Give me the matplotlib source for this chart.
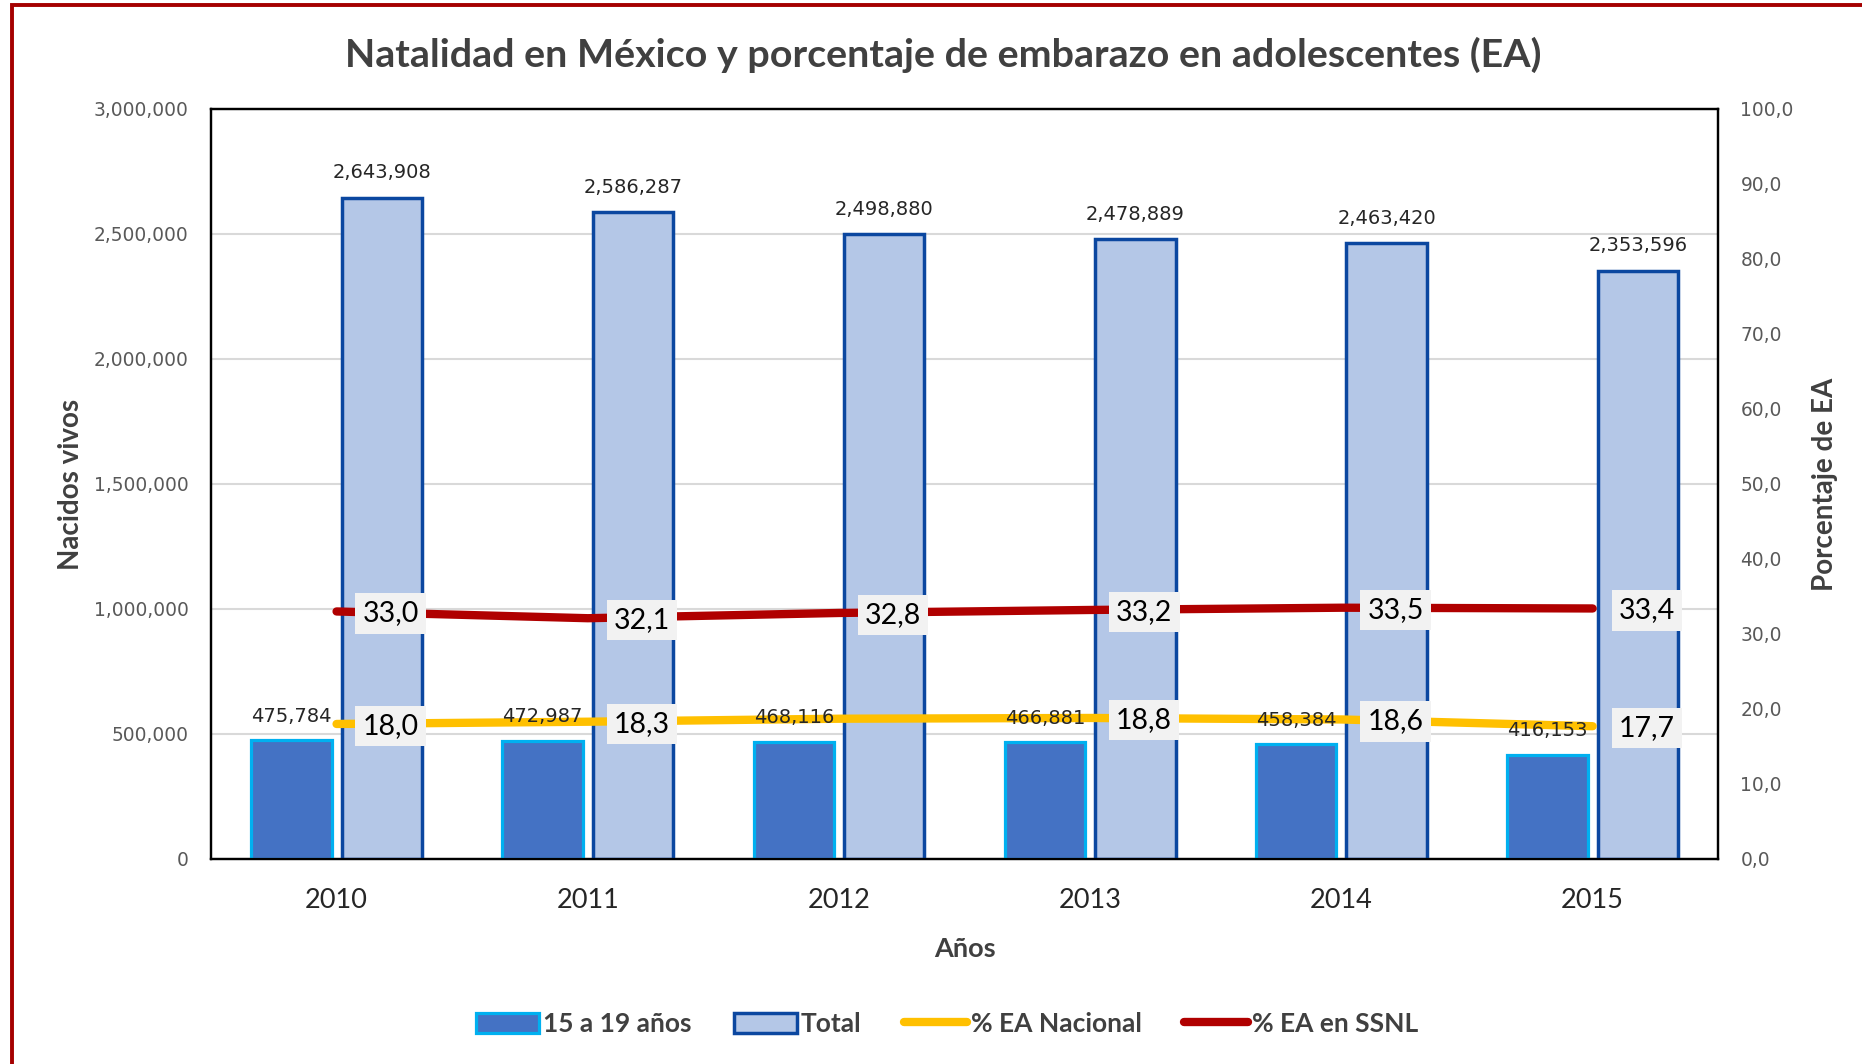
import numpy as np
import matplotlib
matplotlib.use("Agg")
from matplotlib import pyplot as plt
from matplotlib.patches import Patch, Rectangle
from matplotlib.lines import Line2D
from matplotlib.ticker import FuncFormatter, MultipleLocator

# data
years = ["2010", "2011", "2012", "2013", "2014", "2015"]
births_15_19 = [475784, 472987, 468116, 466881, 458384, 416153]
births_total = [2643908, 2586287, 2498880, 2478889, 2463420, 2353596]
ea_nacional = [18.0, 18.3, 18.7, 18.8, 18.6, 17.7]
ea_ssnl = [33.0, 32.1, 32.8, 33.2, 33.5, 33.4]
show_nacional_label = [True, True, False, True, True, True]

titleFont = "Lato"
tickFont = "DejaVu Sans"
darkText = "#404040"
tickColor = "#595959"

col_teen = "#4472C4"
edge_teen = "#00B0F0"
col_total = "#B4C7E7"
edge_total = "#0B47A0"
col_yellow = "#FFC000"
col_red = "#B00000"

fig = plt.figure(figsize=(18.62, 10.64), dpi=100)
ax = fig.add_axes([0.1133, 0.1927, 0.8095, 0.7049])
ax2 = ax.twinx()

x = np.arange(len(years))
barWidth = 0.32
offset = 0.18

ax.bar(x - offset, births_15_19, width=barWidth, color=col_teen, edgecolor=edge_teen,
       linewidth=2.3, zorder=3)
ax.bar(x + offset, births_total, width=barWidth, color=col_total, edgecolor=edge_total,
       linewidth=2.5, zorder=3)

ax.set_xlim(-0.5, len(years) - 0.5)
ax.set_ylim(0, 3000000)
ax.yaxis.set_major_locator(MultipleLocator(500000))
ax.yaxis.set_major_formatter(FuncFormatter(lambda v, p: f"{int(v):,}"))
ax.grid(axis="y", color="#D9D9D9", linewidth=1.5, zorder=0)
ax.set_axisbelow(True)
ax.set_xticks(x)
ax.set_xticklabels(years, fontsize=19.5, family=titleFont, color="#262626")

ax2.set_ylim(0, 100)
ax2.yaxis.set_major_locator(MultipleLocator(10))
ax2.yaxis.set_major_formatter(FuncFormatter(lambda v, p: f"{v:.1f}".replace(".", ",")))

ax.tick_params(axis="y", length=0, pad=16, labelsize=13.4, labelcolor=tickColor)
ax.tick_params(axis="x", length=0, pad=21)
ax2.tick_params(axis="y", length=0, pad=16, labelsize=13.4, labelcolor=tickColor)
for lab in ax.get_yticklabels() + ax2.get_yticklabels():
    lab.set_family(tickFont)

for a in (ax, ax2):
    for s in a.spines.values():
        s.set_color("black")
        s.set_linewidth(1.6)

ax2.plot(x, ea_nacional, color=col_yellow, linewidth=6, solid_capstyle="round", zorder=4)
ax2.plot(x, ea_ssnl, color=col_red, linewidth=6, solid_capstyle="round", zorder=4)

# bar value labels
for i in range(len(years)):
    ax2.annotate(f"{births_15_19[i]:,}", xy=(x[i] - offset, births_15_19[i]),
                 xycoords=ax.transData, xytext=(0, 24), textcoords="offset pixels",
                 ha="center", va="center", fontsize=14, family=tickFont,
                 color="#262626", zorder=6)
    ax2.annotate(f"{births_total[i]:,}", xy=(x[i] + offset, births_total[i]),
                 xycoords=ax.transData, xytext=(0, 25), textcoords="offset pixels",
                 ha="center", va="center", fontsize=14, family=tickFont,
                 color="#262626", zorder=6)

boxStyle = dict(boxstyle="square,pad=0.25", facecolor="#F2F2F2", edgecolor="none")
for i in range(len(years)):
    ax2.annotate(f"{ea_ssnl[i]:.1f}".replace(".", ","), xy=(x[i], ea_ssnl[i]),
                 xytext=(26, -2), textcoords="offset pixels", ha="left", va="center",
                 fontsize=20.5, family=titleFont, color="black", bbox=boxStyle, zorder=7)
    if show_nacional_label[i]:
        ax2.annotate(f"{ea_nacional[i]:.1f}".replace(".", ","), xy=(x[i], ea_nacional[i]),
                     xytext=(26, -2), textcoords="offset pixels", ha="left", va="center",
                     fontsize=20.5, family=titleFont, color="black", bbox=boxStyle, zorder=7)

ax.set_xlabel("Años", fontsize=19.5, fontweight="bold", family=titleFont, color=darkText,
              labelpad=17)
ax.set_ylabel("Nacidos vivos", fontsize=20, fontweight="bold", family=titleFont,
              color=darkText, labelpad=7)
ax2.set_ylabel("Porcentaje de EA", fontsize=20, fontweight="bold", family=titleFont,
               color=darkText, labelpad=13)

fig.text(0.5065, 0.948, "Natalidad en México y porcentaje de embarazo en adolescentes (EA)",
         ha="center", va="center", fontsize=28.4, fontweight="bold", family=titleFont,
         color=darkText)

handles = [Patch(facecolor=col_teen, edgecolor=edge_teen, linewidth=2.3),
           Patch(facecolor=col_total, edgecolor=edge_total, linewidth=2.5),
           Line2D([0], [0], color=col_yellow, linewidth=6, solid_capstyle="round"),
           Line2D([0], [0], color=col_red, linewidth=6, solid_capstyle="round")]
labels = ["15 a 19 años", "Total", "% EA Nacional", "% EA en SSNL"]
leg = fig.legend(handles, labels, loc="center", bbox_to_anchor=(0.5085, 0.0375), ncol=4,
                 frameon=False, handlelength=2.4, handleheight=0.8, handletextpad=0.15,
                 columnspacing=1.6, prop={"family": titleFont, "weight": "bold", "size": 19})
for t in leg.get_texts():
    t.set_color(darkText)

# outer chart border (dark red)
fig.patches.append(Rectangle((12 / 1862, -0.1), 1.2, 1.1 - 5 / 1064, transform=fig.transFigure,
                             fill=False, edgecolor="#A50000", linewidth=2.8))

fig.savefig("out.png", dpi=100)
